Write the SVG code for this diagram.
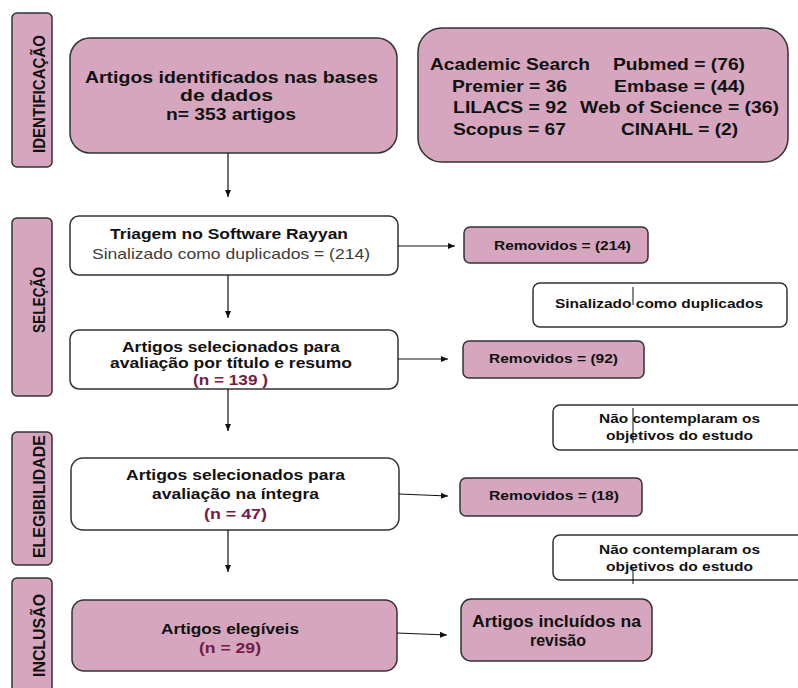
<svg xmlns="http://www.w3.org/2000/svg" width="798" height="688" viewBox="0 0 798 688">
<style>
text{font-family:"Liberation Sans",Arial,sans-serif;fill:#111;font-weight:bold}
.pink{fill:#d5a6bd;stroke:#333;stroke-width:1.5}
.white{fill:#fff;stroke:#333;stroke-width:1.5}
.lab{fill:#d5a6bd;stroke:#333;stroke-width:1.5}
.t17{font-size:17px}
.t16{font-size:16px}
.t14{font-size:15px}
.t12{font-size:13px}
.reg{font-weight:normal;fill:#3c3c3c}
.n{fill:#741b47}
.conn line{stroke:#111;stroke-width:1.2}
.vt{font-size:16.5px}
</style>
<defs>
<marker id="ah" markerWidth="8" markerHeight="8" refX="7" refY="4" orient="auto" markerUnits="userSpaceOnUse">
<path d="M0,1 L7,4 L0,7 Z" fill="#111"/>
</marker>
</defs>

<g id="lab-identificacao">
<rect class="lab" x="12" y="13" width="40" height="154" rx="5"/>
<text class="vt" transform="translate(45,153) rotate(-90)" textLength="118" lengthAdjust="spacingAndGlyphs">IDENTIFICAÇÃO</text>
</g>
<g id="lab-selecao">
<rect class="lab" x="12" y="218" width="40" height="178" rx="5"/>
<text class="vt" transform="translate(45,333) rotate(-90)" textLength="66" lengthAdjust="spacingAndGlyphs">SELEÇÃO</text>
</g>
<g id="lab-elegibilidade">
<rect class="lab" x="12" y="432" width="40" height="133" rx="5"/>
<text class="vt" transform="translate(45,558) rotate(-90)" textLength="123" lengthAdjust="spacingAndGlyphs">ELEGIBILIDADE</text>
</g>
<g id="lab-inclusao">
<rect class="lab" x="12" y="578" width="40" height="130" rx="5"/>
<text class="vt" transform="translate(45,677) rotate(-90)" textLength="83" lengthAdjust="spacingAndGlyphs">INCLUSÃO</text>
</g>

<g id="identificados">
<rect class="pink" x="70" y="38" width="327" height="115" rx="20"/>
<text class="t16" x="85" y="83" textLength="293" lengthAdjust="spacingAndGlyphs">Artigos identificados nas bases</text>
<text class="t16" x="180" y="101" textLength="93" lengthAdjust="spacingAndGlyphs">de dados</text>
<text class="t16" x="166" y="120" textLength="130" lengthAdjust="spacingAndGlyphs">n= 353 artigos</text>
</g>

<g id="bases">
<rect class="pink" x="418" y="28" width="370" height="134" rx="24"/>
<text class="t17" x="430" y="70" textLength="160" lengthAdjust="spacingAndGlyphs">Academic Search</text>
<text class="t17" x="452" y="91.5" textLength="115" lengthAdjust="spacingAndGlyphs">Premier = 36</text>
<text class="t17" x="453" y="113" textLength="114" lengthAdjust="spacingAndGlyphs">LILACS = 92</text>
<text class="t17" x="453" y="134.5" textLength="113" lengthAdjust="spacingAndGlyphs">Scopus = 67</text>
<text class="t17" x="613" y="70" textLength="132" lengthAdjust="spacingAndGlyphs">Pubmed = (76)</text>
<text class="t17" x="614" y="91.5" textLength="131" lengthAdjust="spacingAndGlyphs">Embase = (44)</text>
<text class="t17" x="580" y="113" textLength="199" lengthAdjust="spacingAndGlyphs">Web of Science = (36)</text>
<text class="t17" x="621" y="134.5" textLength="117" lengthAdjust="spacingAndGlyphs">CINAHL = (2)</text>
</g>

<g id="triagem">
<rect class="white" x="70" y="216" width="328" height="59" rx="9"/>
<text class="t14" x="110" y="239" textLength="238" lengthAdjust="spacingAndGlyphs">Triagem no Software Rayyan</text>
<text class="t14 reg" x="92" y="259" textLength="278" lengthAdjust="spacingAndGlyphs">Sinalizado como duplicados = (214)</text>
</g>

<g id="removidos-214">
<rect class="pink" x="464" y="227" width="184" height="36" rx="6"/>
<text class="t12" x="494" y="250" textLength="137" lengthAdjust="spacingAndGlyphs">Removidos = (214)</text>
</g>

<g id="nota-duplicados">
<rect class="white" x="533" y="283" width="254" height="44" rx="7"/>
<text class="t12" x="555" y="308" textLength="208" lengthAdjust="spacingAndGlyphs">Sinalizado como duplicados</text>
<line x1="633" y1="287" x2="633" y2="305" stroke="#111" stroke-width="1"/>
</g>

<g id="selecionados-titulo">
<rect class="white" x="70" y="330" width="328" height="59" rx="9"/>
<text class="t14" x="122" y="352" textLength="218" lengthAdjust="spacingAndGlyphs">Artigos selecionados para</text>
<text class="t14" x="110" y="368" textLength="242" lengthAdjust="spacingAndGlyphs">avaliação por título e resumo</text>
<text class="t14 n" x="193" y="385" textLength="75" lengthAdjust="spacingAndGlyphs">(n = 139 )</text>
</g>

<g id="removidos-92">
<rect class="pink" x="463" y="341" width="181" height="37" rx="6"/>
<text class="t12" x="489" y="363" textLength="129" lengthAdjust="spacingAndGlyphs">Removidos = (92)</text>
</g>

<g id="nota-objetivos-1">
<rect class="white" x="553" y="405" width="256" height="45" rx="7"/>
<text class="t12" x="599" y="423" textLength="161" lengthAdjust="spacingAndGlyphs">Não contemplaram os</text>
<text class="t12" x="606" y="440" textLength="147" lengthAdjust="spacingAndGlyphs">objetivos do estudo</text>
<line x1="633" y1="408" x2="633" y2="443" stroke="#111" stroke-width="1"/>
</g>

<g id="selecionados-integra">
<rect class="white" x="71" y="458" width="328" height="72" rx="12"/>
<text class="t14" x="126" y="480" textLength="219" lengthAdjust="spacingAndGlyphs">Artigos selecionados para</text>
<text class="t14" x="152" y="499" textLength="167" lengthAdjust="spacingAndGlyphs">avaliação na íntegra</text>
<text class="t14 n" x="204" y="519" textLength="63" lengthAdjust="spacingAndGlyphs">(n = 47)</text>
</g>

<g id="removidos-18">
<rect class="pink" x="460" y="478" width="182" height="38" rx="6"/>
<text class="t12" x="489" y="500" textLength="130" lengthAdjust="spacingAndGlyphs">Removidos = (18)</text>
</g>

<g id="nota-objetivos-2">
<rect class="white" x="553" y="535" width="256" height="45" rx="7"/>
<text class="t12" x="599" y="554" textLength="161" lengthAdjust="spacingAndGlyphs">Não contemplaram os</text>
<text class="t12" x="606" y="571" textLength="147" lengthAdjust="spacingAndGlyphs">objetivos do estudo</text>
<line x1="633" y1="568" x2="633" y2="584" stroke="#111" stroke-width="1"/>
</g>

<g id="elegiveis">
<rect class="pink" x="72" y="600" width="325" height="71" rx="12"/>
<text class="t14" x="161" y="634" textLength="138" lengthAdjust="spacingAndGlyphs">Artigos elegíveis</text>
<text class="t14 n" x="199" y="653" textLength="62" lengthAdjust="spacingAndGlyphs">(n = 29)</text>
</g>

<g id="incluidos">
<rect class="pink" x="461" y="599" width="191" height="62" rx="10"/>
<text class="t16" x="472" y="627" textLength="169" lengthAdjust="spacingAndGlyphs">Artigos incluídos na</text>
<text class="t16" x="530" y="646" textLength="56" lengthAdjust="spacingAndGlyphs">revisão</text>
</g>

<g id="connectors" class="conn">
<line x1="228" y1="153" x2="228" y2="197" marker-end="url(#ah)"/>
<line x1="398" y1="246" x2="455" y2="246" marker-end="url(#ah)"/>
<line x1="228" y1="275" x2="228" y2="318" marker-end="url(#ah)"/>
<line x1="398" y1="359" x2="448" y2="359" marker-end="url(#ah)"/>
<line x1="228" y1="389" x2="228" y2="431" marker-end="url(#ah)"/>
<line x1="399" y1="494" x2="448" y2="496" marker-end="url(#ah)"/>
<line x1="228" y1="530" x2="228" y2="572" marker-end="url(#ah)"/>
<line x1="397" y1="633" x2="447" y2="635" marker-end="url(#ah)"/>
</g>
</svg>
